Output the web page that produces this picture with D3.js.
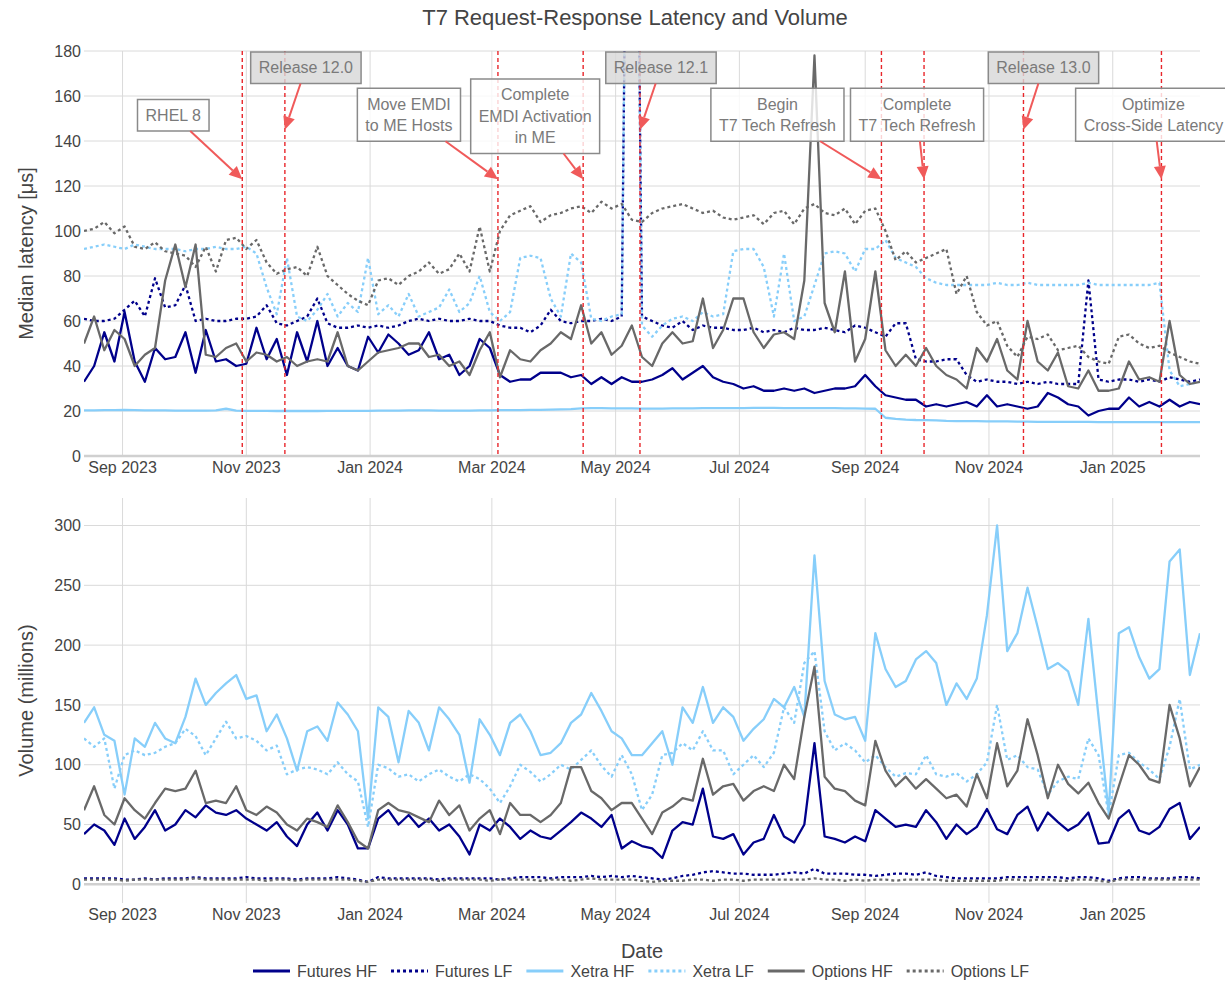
<!DOCTYPE html>
<html>
<head>
<meta charset="utf-8">
<script src="https://cdn.jsdelivr.net/npm/d3@7"></script>
<style>
  body { margin: 0; background: #fff; }
  text { font-family: "Liberation Sans", Arial, sans-serif; }
</style>
</head>
<body>
<script>
// sampling grid: one value every 5 days from 13 Aug 2023
const startDate = new Date(2023, 7, 13);
const stepDays = 5;

// median latency [µs]
const futuresHFLatency = [
  33, 40, 55, 42, 64, 42, 33, 48, 43, 44,
  55, 37, 56, 42, 43, 40, 41, 57, 43, 52,
  36, 55, 42, 60, 40, 48, 40, 38, 53, 46,
  54, 50, 45, 47, 55, 43, 45, 36, 40, 52,
  48, 36, 33, 34, 34, 37, 37, 37, 35, 36,
  32, 35, 32, 35, 33, 33, 34, 36, 39, 34,
  37, 40, 35, 33, 32, 30, 31, 29, 29, 30,
  29, 30, 28, 29, 30, 30, 31, 36, 31, 27,
  26, 25, 25, 22, 23, 22, 23, 24, 22, 27,
  22, 23, 22, 21, 22, 28, 26, 23, 22, 18,
  20, 21, 21, 26, 22, 24, 22, 25, 22, 24,
  23];
const futuresLFLatency = [
  61, 60, 60, 61, 65, 69, 62, 79, 66, 67,
  76, 60, 61, 60, 60, 61, 61, 62, 67, 59,
  58, 60, 62, 70, 59, 57, 57, 58, 57, 58,
  57, 58, 60, 61, 60, 61, 60, 60, 61, 60,
  60, 58, 57, 57, 55, 58, 65, 60, 59, 60,
  60, 61, 60, 62, 500, 62, 60, 58, 57, 60,
  56, 58, 57, 57, 56, 56, 57, 55, 56, 55,
  57, 56, 56, 57, 56, 55, 58, 57, 55, 53,
  59, 59, 43, 42, 42, 43, 43, 36, 33, 34,
  33, 33, 32, 33, 32, 33, 32, 32, 32, 78,
  34, 33, 34, 34, 33, 34, 33, 35, 34, 33,
  34];
const xetraHFLatency = [
  20.3, 20.3, 20.4, 20.4, 20.5, 20.4, 20.3, 20.3, 20.3, 20.2,
  20.2, 20.2, 20.2, 20.3, 21.0, 20.2, 20.1, 20.1, 20.1, 20.0,
  20.0, 20.0, 20.0, 20.0, 20.1, 20.1, 20.1, 20.1, 20.1, 20.2,
  20.2, 20.2, 20.3, 20.3, 20.3, 20.2, 20.2, 20.2, 20.2, 20.3,
  20.3, 20.4, 20.4, 20.4, 20.5, 20.5, 20.6, 20.7, 20.8, 21.2,
  21.3, 21.3, 21.2, 21.2, 21.2, 21.1, 21.1, 21.1, 21.2, 21.2,
  21.2, 21.3, 21.3, 21.3, 21.3, 21.3, 21.4, 21.4, 21.4, 21.3,
  21.3, 21.3, 21.3, 21.3, 21.3, 21.2, 21.2, 21.1, 21.0, 17.0,
  16.5, 16.2, 16.0, 15.9, 15.8, 15.6, 15.5, 15.5, 15.5, 15.4,
  15.4, 15.4, 15.3, 15.3, 15.2, 15.2, 15.2, 15.2, 15.2, 15.2,
  15.1, 15.1, 15.1, 15.1, 15.1, 15.1, 15.1, 15.1, 15.1, 15.1,
  15.1];
const xetraLFLatency = [
  92, 93, 94, 93, 92, 94, 93, 92, 92, 92,
  91, 92, 92, 93, 92, 92, 93, 90, 75, 63,
  88, 62, 60, 65, 72, 62, 68, 64, 88, 63,
  67, 62, 72, 62, 64, 66, 74, 64, 68, 80,
  64, 60, 64, 88, 89, 88, 70, 62, 90, 86,
  61, 60, 62, 63, 500, 58, 53, 58, 61, 62,
  60, 64, 62, 63, 91, 92, 92, 84, 62, 90,
  60, 62, 76, 90, 91, 90, 82, 92, 92, 96,
  88, 86, 84, 79, 77, 76, 76, 76, 76, 76,
  77, 76, 76, 77, 76, 76, 76, 76, 76, 77,
  76, 76, 76, 76, 76, 76, 77, 38, 31, 32,
  33];
const optionsHFLatency = [
  50, 62, 47, 56, 52, 40, 45, 48, 78, 94,
  75, 94, 45, 44, 48, 50, 42, 46, 45, 42,
  44, 40, 42, 43, 42, 55, 40, 38, 42, 46,
  47, 48, 50, 50, 44, 45, 40, 42, 36, 47,
  55, 35, 47, 43, 42, 47, 50, 55, 52, 67,
  50, 55, 45, 49, 58, 44, 40, 50, 55, 50,
  51, 70, 48, 56, 70, 70, 55, 48, 54, 55,
  52, 78, 178, 68, 55, 82, 42, 52, 82, 47,
  40, 45, 40, 48, 40, 36, 34, 30, 48, 42,
  52, 38, 34, 60, 42, 38, 46, 31, 30, 38,
  29, 29, 30, 42, 34, 35, 33, 60, 36, 32,
  33];
const optionsLFLatency = [
  100, 101, 104, 99, 102, 93, 92, 95, 91, 90,
  89, 84, 93, 82, 96, 97, 92, 96, 86, 81,
  83, 84, 80, 93, 80, 76, 72, 69, 67, 78,
  79, 76, 80, 82, 86, 81, 83, 90, 82, 102,
  82, 100, 107, 109, 111, 104, 107, 108, 110, 111,
  108, 113, 110, 112, 105, 104, 108, 110, 111, 112,
  110, 108, 109, 106, 105, 106, 107, 103, 108, 109,
  103, 110, 112, 108, 107, 110, 103, 109, 110, 100,
  87, 91, 86, 88, 90, 92, 72, 80, 64, 58,
  60, 49, 44, 53, 52, 54, 47, 48, 49, 44,
  42, 41, 53, 54, 50, 48, 49, 46, 44, 42,
  41];

// volume (millions)
const futuresHFVolume = [
  42, 50, 45, 33, 55, 38, 48, 62, 45, 50,
  62, 56, 66, 60, 58, 62, 55, 50, 45, 52,
  40, 32, 50, 60, 45, 62, 50, 30, 30, 55,
  62, 50, 58, 48, 55, 45, 50, 40, 25, 50,
  45, 55, 48, 38, 45, 40, 38, 45, 52, 60,
  55, 48, 58, 30, 36, 32, 30, 22, 45, 52,
  50, 80, 40, 38, 42, 25, 35, 38, 58, 40,
  35, 50, 118, 40, 38, 35, 40, 36, 62, 55,
  48, 50, 48, 62, 52, 38, 50, 42, 48, 63,
  46, 42, 58, 65, 45, 60, 52, 45, 50, 60,
  34, 35, 55, 62, 45, 42, 48, 63, 68, 38,
  48];
const futuresLFVolume = [
  5, 5, 5, 5, 4, 4, 5, 4, 5, 5,
  5, 6, 5, 5, 5, 5, 6, 5, 5, 5,
  5, 4, 5, 5, 5, 6, 5, 4, 2, 6,
  5, 5, 5, 5, 5, 4, 5, 5, 5, 5,
  5, 4, 5, 6, 6, 6, 5, 6, 6, 6,
  7, 6, 7, 6, 7, 6, 5, 4, 5, 7,
  8, 10, 11, 10, 9, 9, 8, 8, 8, 9,
  10, 9, 13, 9, 9, 9, 8, 8, 7, 8,
  9, 9, 8, 10, 7, 6, 5, 5, 5, 5,
  5, 6, 6, 6, 6, 6, 6, 5, 6, 6,
  5, 3, 5, 6, 6, 5, 5, 5, 6, 6,
  5];
const xetraHFVolume = [
  135, 148, 125, 120, 75, 122, 115, 135, 122, 118,
  140, 172, 150, 160, 168, 175, 155, 158, 128, 142,
  122, 95, 128, 132, 120, 152, 142, 128, 55, 148,
  140, 102, 145, 135, 112, 148, 138, 125, 85, 138,
  125, 108, 135, 142, 128, 108, 110, 118, 135, 142,
  160, 145, 128, 122, 108, 108, 118, 128, 100, 148,
  135, 165, 135, 148, 140, 120, 130, 138, 155, 148,
  165, 140, 275, 170, 142, 138, 140, 120, 210, 180,
  165, 170, 188, 195, 185, 150, 168, 155, 172, 225,
  300, 195, 210, 248, 215, 180, 185, 178, 150, 222,
  140, 60, 210, 215, 190, 172, 180, 270, 280, 175,
  210];
const xetraLFVolume = [
  122, 115, 122, 80, 108, 112, 108, 110, 115, 118,
  130, 124, 108, 122, 136, 122, 124, 120, 112, 116,
  92, 96, 98, 96, 92, 102, 92, 86, 48, 100,
  97, 90, 92, 86, 92, 96, 90, 86, 92, 88,
  80, 68, 82, 100, 94, 86, 92, 100, 96, 104,
  112, 99, 90, 108, 92, 62, 75, 108, 110, 118,
  112, 128, 112, 112, 92, 100, 108, 98, 110, 148,
  135, 185, 195, 128, 112, 118, 112, 102, 108, 98,
  90, 93, 92, 108, 92, 90, 93, 86, 92, 102,
  150, 104, 108, 98, 96, 75, 86, 90, 88, 122,
  108, 58, 108, 110, 102, 96, 88, 115, 155, 96,
  100];
const optionsHFVolume = [
  62, 82, 58, 50, 72, 62, 55, 68, 80, 78,
  80, 95, 68, 70, 68, 82, 62, 58, 65, 60,
  50, 45, 55, 52, 48, 66, 52, 36, 30, 62,
  68, 62, 60, 56, 52, 70, 58, 66, 45, 55,
  62, 42, 68, 58, 58, 52, 58, 68, 98, 98,
  78, 72, 62, 68, 68, 55, 42, 60, 65, 72,
  70, 105, 75, 82, 84, 70, 78, 82, 78, 100,
  88, 140, 182, 90, 80, 78, 70, 66, 120, 95,
  82, 90, 80, 88, 80, 72, 75, 65, 92, 72,
  118, 82, 95, 138, 108, 72, 100, 84, 76, 85,
  68, 55, 82, 108, 100, 88, 85, 150, 122, 82,
  98];
const optionsLFVolume = [
  4, 4, 4, 4, 3, 4, 4, 4, 4, 4,
  4, 5, 4, 4, 4, 4, 4, 4, 3, 4,
  4, 3, 4, 4, 4, 4, 4, 3, 2, 4,
  4, 4, 4, 4, 4, 3, 4, 4, 4, 4,
  3, 4, 4, 4, 4, 3, 4, 4, 3, 4,
  5, 4, 4, 4, 4, 3, 2, 3, 3, 3,
  4, 4, 3, 4, 4, 3, 4, 4, 4, 4,
  4, 4, 5, 4, 4, 3, 4, 3, 4, 4,
  3, 4, 4, 4, 4, 3, 3, 3, 3, 3,
  3, 4, 4, 3, 4, 4, 3, 3, 4, 4,
  3, 2, 4, 4, 4, 4, 4, 4, 4, 4,
  4];

const seriesNames = ["Futures HF", "Futures LF", "Xetra HF", "Xetra LF", "Options HF", "Options LF"];
const latencyValues = [futuresHFLatency, futuresLFLatency, xetraHFLatency, xetraLFLatency, optionsHFLatency, optionsLFLatency];
const volumeValues = [futuresHFVolume, futuresLFVolume, xetraHFVolume, xetraLFVolume, optionsHFVolume, optionsLFVolume];

// events
const eventDates = ["2023-10-30", "2023-11-20", "2024-03-04", "2024-04-15", "2024-05-13",
                    "2024-09-09", "2024-09-30", "2024-11-18", "2025-01-25"];
const eventLabels = [["RHEL 8"], ["Release 12.0"], ["Move EMDI", "to ME Hosts"],
                     ["Complete", "EMDI Activation", "in ME"], ["Release 12.1"],
                     ["Begin", "T7 Tech Refresh"], ["Complete", "T7 Tech Refresh"],
                     ["Release 13.0"], ["Optimize", "Cross-Side Latency"]];
const eventIsRelease = [false, true, false, false, true, false, false, true, false];
const eventArrowTip = [123, 145, 123, 123, 145, 123, 123, 145, 123];

const latTicks = [0, 20, 40, 60, 80, 100, 120, 140, 160, 180];
const volTicks = [0, 50, 100, 150, 200, 250, 300];

// ---- styling / layout ----
const colors = ["#00008b", "#00008b", "#87cefa", "#87cefa", "#696969", "#696969"];
const dotted = [false, true, false, true, false, true];
const annDx = [-69, 21, -89, -48, 21, -104, -7, 20, -8];
const annDy = [-64, -62, -64.5, -63, -62, -64.5, -64.5, -62, -64.5];

const W = 1225, H = 981;
const left = 84, right = 1200;
const top1 = 51, bot1 = 456, top2 = 498, bot2 = 903;

const dates = futuresHFLatency.map((d, i) => d3.timeDay.offset(startDate, i * stepDays));
const parse = d3.timeParse("%Y-%m-%d");

const svg = d3.select("body").append("svg")
  .attr("width", W).attr("height", H);

const x = d3.scaleTime().domain(d3.extent(dates)).range([left, right]);
const yLat = d3.scaleLinear().domain([0, 180]).range([bot1, top1]);
const yVol = d3.scaleLinear().domain([-15.6, 323]).range([bot2, top2]);

const defs = svg.append("defs");
defs.append("clipPath").attr("id", "clip1").append("rect")
  .attr("x", left).attr("y", top1).attr("width", right - left).attr("height", bot1 - top1);
defs.append("clipPath").attr("id", "clip2").append("rect")
  .attr("x", left).attr("y", top2).attr("width", right - left).attr("height", bot2 - top2);

const monthTicks = x.ticks(d3.timeMonth.every(2));
const fmt = d3.timeFormat("%b %Y");

function panel(y, ticks, top, bot, values, clipId) {
  const g = svg.append("g");
  g.selectAll(".vg").data(monthTicks).enter().append("line")
    .attr("x1", d => x(d)).attr("x2", d => x(d))
    .attr("y1", top).attr("y2", bot)
    .attr("stroke", "#dadada").attr("stroke-width", 1);
  g.selectAll(".hg").data(ticks.filter(t => t !== 0)).enter().append("line")
    .attr("x1", left).attr("x2", right)
    .attr("y1", d => y(d)).attr("y2", d => y(d))
    .attr("stroke", "#dadada").attr("stroke-width", 1);
  g.append("line")
    .attr("x1", left).attr("x2", right)
    .attr("y1", y(0)).attr("y2", y(0))
    .attr("stroke", "#d0d0d0").attr("stroke-width", 2.5);

  g.selectAll(".yl").data(ticks).enter().append("text")
    .attr("x", left - 3).attr("y", d => y(d)).attr("dy", "0.35em")
    .attr("text-anchor", "end").attr("font-size", 16).attr("fill", "#444")
    .text(d => d);
  g.selectAll(".xl").data(monthTicks).enter().append("text")
    .attr("x", d => x(d)).attr("y", bot + 17)
    .attr("text-anchor", "middle").attr("font-size", 16).attr("fill", "#444")
    .text(d => fmt(d));

  const line = d3.line()
    .x((d, i) => x(dates[i]))
    .y(d => y(d));
  const lg = g.append("g").attr("clip-path", "url(#" + clipId + ")");
  values.forEach(function(vals, k) {
    lg.append("path")
      .attr("d", line(vals))
      .attr("fill", "none")
      .attr("stroke", colors[k])
      .attr("stroke-width", 2.3)
      .attr("stroke-linejoin", "round")
      .attr("stroke-dasharray", dotted[k] ? "3,3" : null);
  });
}

panel(yLat, latTicks, top1, bot1, latencyValues, "clip1");
panel(yVol, volTicks, top2, bot2, volumeValues, "clip2");

// event lines
const ev = svg.append("g");
eventDates.forEach(function(ds) {
  const xe = x(parse(ds));
  ev.append("line")
    .attr("x1", xe).attr("x2", xe).attr("y1", top1).attr("y2", bot1)
    .attr("stroke", "#e8262b").attr("stroke-width", 1.4)
    .attr("stroke-dasharray", "4,3");
});

// annotations
const ann = svg.append("g");
eventDates.forEach(function(ds, i) {
  const tx = x(parse(ds)), ty = yLat(eventArrowTip[i]);
  const cx = tx + annDx[i], cy = ty + annDy[i];
  const lines = eventLabels[i];
  const lh = 21.5;
  const g = ann.append("g");
  const rect = g.append("rect");
  const t = g.append("text")
    .attr("text-anchor", "middle").attr("font-size", 16).attr("fill", "#7a7a7a");
  lines.forEach(function(s, j) {
    t.append("tspan").attr("x", cx)
      .attr("y", cy + (j - (lines.length - 1) / 2) * lh)
      .attr("dy", "0.35em").text(s);
  });
  const tw = t.node().getBBox().width;
  const bw = tw + 16, bh = lines.length * lh + 10;
  rect.attr("x", cx - bw / 2).attr("y", cy - bh / 2)
    .attr("width", bw).attr("height", bh)
    .attr("fill", eventIsRelease[i] ? "rgba(215,215,215,0.8)" : "rgba(255,255,255,0.8)")
    .attr("stroke", "#8a8a8a").attr("stroke-width", 1.5);

  // arrow from box edge to tip
  const dx = tx - cx, dy = ty - cy;
  const s = Math.min(Math.abs((bw / 2) / (dx || 1e-6)), Math.abs((bh / 2) / (dy || 1e-6)));
  const sx = cx + dx * s, sy = cy + dy * s;
  const len = Math.hypot(tx - sx, ty - sy);
  const ux = (tx - sx) / len, uy = (ty - sy) / len;
  const hl = 13, hw = 6;
  const bx = tx - ux * hl, by = ty - uy * hl;
  ann.append("line")
    .attr("x1", sx).attr("y1", sy).attr("x2", bx).attr("y2", by)
    .attr("stroke", "#f05a5a").attr("stroke-width", 2);
  ann.append("path")
    .attr("d", "M" + tx + "," + ty +
      "L" + (bx - uy * hw) + "," + (by + ux * hw) +
      "L" + (bx + uy * hw) + "," + (by - ux * hw) + "Z")
    .attr("fill", "#f05a5a");
});

// titles
svg.append("text")
  .attr("x", 635).attr("y", 25).attr("text-anchor", "middle")
  .attr("font-size", 22).attr("fill", "#444")
  .text("T7 Request-Response Latency and Volume");
svg.append("text")
  .attr("transform", "translate(33," + ((top1 + bot1) / 2) + ") rotate(-90)")
  .attr("text-anchor", "middle").attr("font-size", 20).attr("fill", "#444")
  .text("Median latency [μs]");
svg.append("text")
  .attr("transform", "translate(33," + ((top2 + bot2) / 2) + ") rotate(-90)")
  .attr("text-anchor", "middle").attr("font-size", 20).attr("fill", "#444")
  .text("Volume (millions)");
svg.append("text")
  .attr("x", 642).attr("y", 958).attr("text-anchor", "middle")
  .attr("font-size", 20).attr("fill", "#444")
  .text("Date");

// legend, items laid out one after another
const leg = svg.append("g");
let lx = 253;
seriesNames.forEach(function(name, k) {
  const ly = 971;
  leg.append("line")
    .attr("x1", lx).attr("x2", lx + 37).attr("y1", ly).attr("y2", ly)
    .attr("stroke", colors[k]).attr("stroke-width", 3)
    .attr("stroke-dasharray", dotted[k] ? "3,3" : null);
  const t = leg.append("text")
    .attr("x", lx + 44).attr("y", ly).attr("dy", "0.35em")
    .attr("font-size", 16).attr("fill", "#444")
    .text(name);
  lx = lx + 44 + t.node().getComputedTextLength() + 14;
});
</script>
</body>
</html>
